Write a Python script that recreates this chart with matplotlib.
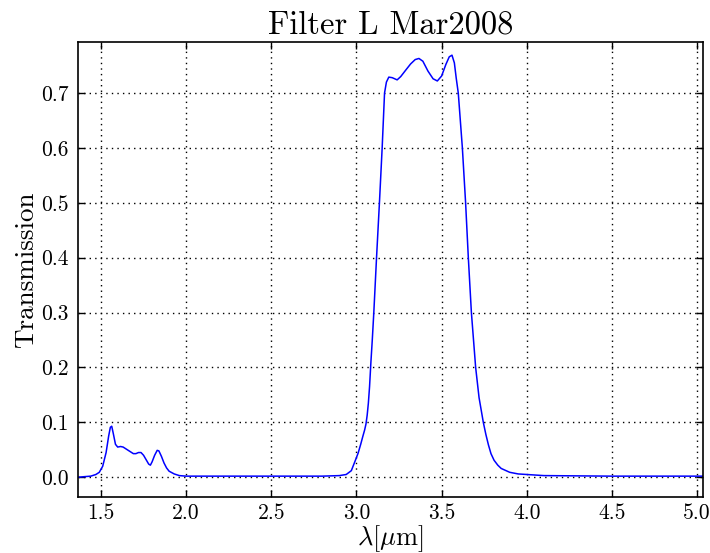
import matplotlib
matplotlib.use("Agg")
import matplotlib.pyplot as plt

wavelength = [1.365, 1.40, 1.44, 1.47, 1.49, 1.51, 1.53, 1.545, 1.555, 1.563,
              1.572, 1.585, 1.598, 1.615, 1.63, 1.65, 1.67, 1.69, 1.705, 1.72,
              1.735, 1.75, 1.765, 1.78, 1.79, 1.80, 1.815, 1.83, 1.84, 1.855,
              1.87, 1.885, 1.90, 1.93, 1.96, 2.0, 2.5, 2.80, 2.90, 2.94,
              2.97, 2.994, 3.01, 3.025, 3.038, 3.048, 3.056, 3.063, 3.07, 3.077,
              3.085, 3.093, 3.102, 3.118, 3.135, 3.151, 3.158, 3.165, 3.176, 3.19,
              3.21, 3.239, 3.26, 3.29, 3.318, 3.345, 3.367, 3.39, 3.42, 3.45,
              3.475, 3.50, 3.525, 3.545, 3.561, 3.575, 3.586, 3.598, 3.61, 3.622,
              3.641, 3.657, 3.675, 3.70, 3.72, 3.735, 3.745, 3.76, 3.775, 3.79,
              3.808, 3.83, 3.85, 3.90, 3.95, 4.0, 4.1, 4.5, 5.05]
transmission = [0.0, 0.001, 0.002, 0.005, 0.009, 0.02, 0.045, 0.075, 0.091, 0.093,
                0.08, 0.06, 0.055, 0.056, 0.055, 0.051, 0.047, 0.043, 0.043, 0.045,
                0.045, 0.040, 0.032, 0.024, 0.022, 0.028, 0.040, 0.049, 0.048, 0.038,
                0.026, 0.017, 0.011, 0.006, 0.003, 0.002, 0.002, 0.002, 0.003, 0.005,
                0.012, 0.031, 0.044, 0.060, 0.075, 0.086, 0.097, 0.113, 0.135, 0.165,
                0.21, 0.25, 0.30, 0.40, 0.50, 0.60, 0.65, 0.70, 0.72, 0.729,
                0.728, 0.724, 0.730, 0.742, 0.753, 0.761, 0.763, 0.758, 0.740, 0.726,
                0.722, 0.731, 0.752, 0.766, 0.769, 0.755, 0.727, 0.70, 0.65, 0.60,
                0.50, 0.40, 0.30, 0.20, 0.145, 0.118, 0.10, 0.078, 0.059, 0.043,
                0.031, 0.022, 0.016, 0.009, 0.006, 0.005, 0.003, 0.002, 0.002]

x_ticks = [1.5, 2.0, 2.5, 3.0, 3.5, 4.0, 4.5, 5.0]
y_ticks = [0.0, 0.1, 0.2, 0.3, 0.4, 0.5, 0.6, 0.7]

plt.rcParams['font.family'] = ['cmr10', 'DejaVu Serif']
plt.rcParams['mathtext.fontset'] = 'cm'
plt.rcParams['axes.unicode_minus'] = False
plt.rcParams['axes.formatter.use_mathtext'] = True

fig = plt.figure(figsize=(7.1, 5.53), dpi=100)
ax = fig.add_axes([78/710, 56/553, 625/710, 455/553])
ax.plot(wavelength, transmission, color='blue', lw=1.1)

ax.set_xlim(1.365, 5.035)
ax.set_ylim(-0.036, 0.793)
ax.set_xticks(x_ticks)
ax.set_yticks(y_ticks)
ax.set_xticklabels([f"{v:.1f}" for v in x_ticks])
ax.set_yticklabels([f"{v:.1f}" for v in y_ticks])
ax.tick_params(direction='in', top=True, right=True, length=5, width=1,
               labelsize=15.5)
ax.tick_params(axis='x', pad=5)
ax.tick_params(axis='y', pad=7)
ax.grid(True, color='black', linestyle=(0, (1, 3)), linewidth=1)
for s in ax.spines.values():
    s.set_linewidth(1.2)

ax.set_title('Filter L Mar2008', fontsize=23.5, pad=6)
ax.set_xlabel(r'$\lambda[\mu\mathrm{m}]$', fontsize=19, labelpad=0)
ax.set_ylabel('Transmission', fontsize=19.5, labelpad=2)

fig.savefig('out.png', dpi=100)
